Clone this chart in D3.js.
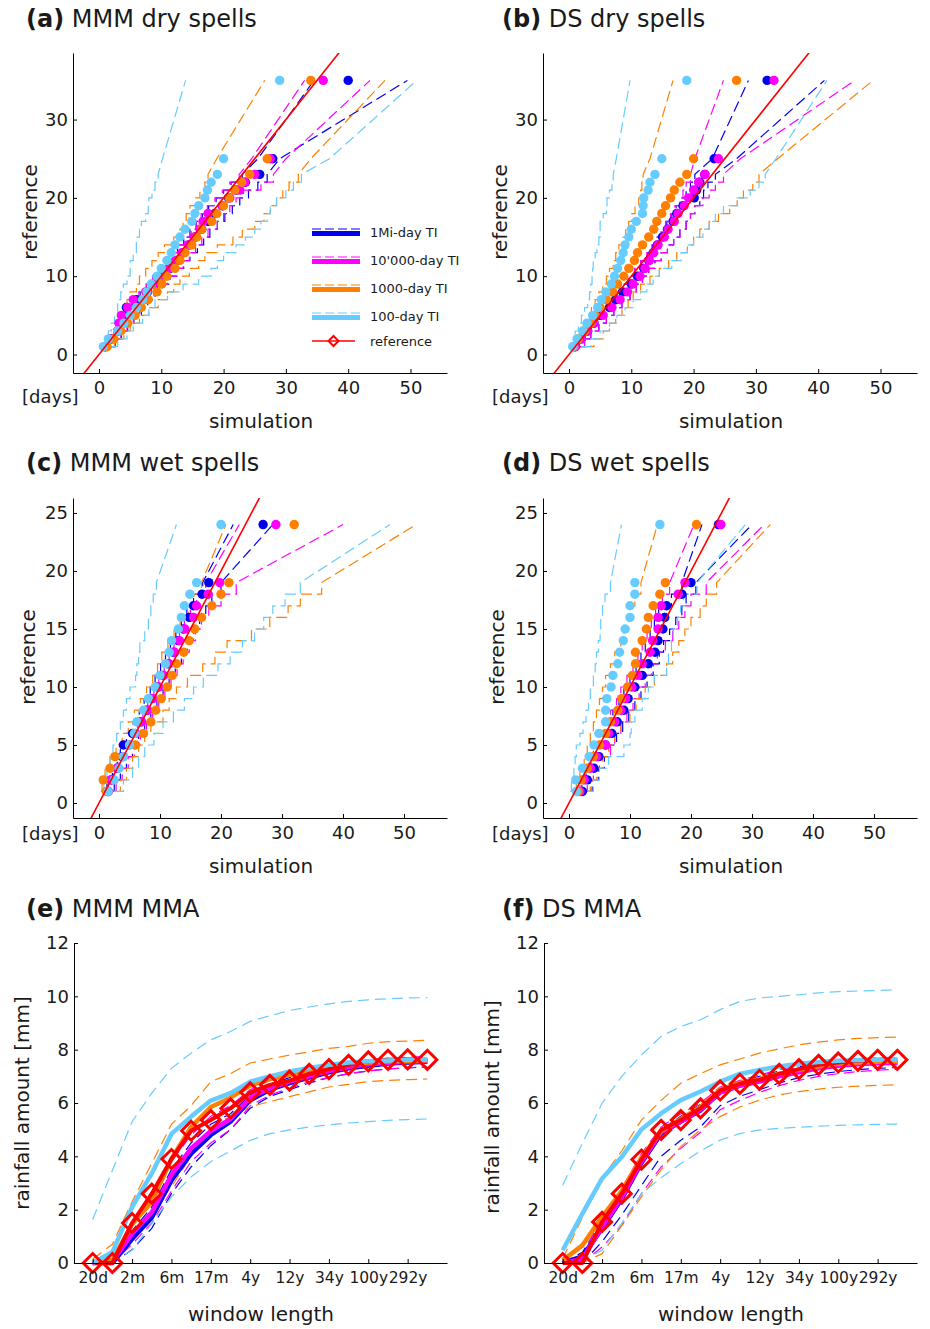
<!DOCTYPE html>
<html>
<head>
<meta charset="utf-8">
<script src="https://cdn.jsdelivr.net/npm/d3@7"></script>
<style>
  html, body { margin: 0; padding: 0; background: #fff; }
  svg { display: block; font-family: "DejaVu Sans", sans-serif; }
</style>
</head>
<body>
<svg id="fig" width="930" height="1329"></svg>
<script>
// ---------------- series labels and colours ----------------
const seriesNames = ["1Mi-day TI", "10'000-day TI", "1000-day TI", "100-day TI"];
const seriesColors = ["#0000ee", "#ff00ff", "#ff8000", "#66ccff"];
const refColor = "#ff0000";

// ---------------- (a) MMM dry spells ----------------
const aLevels = [1,2,3,4,5,6,7,8,9,10,11,12,13,14,15,16,17,18,19,20,21,22,23,25,35];
const aBluePts  = [1.0,2.0,3.0,3.8,4.2,4.4,6.0,7.8,9.0,10.2,11.4,12.5,13.5,14.5,15.5,16.5,17.5,18.6,19.8,20.8,22.0,23.5,25.8,27.9,40.0];
const aBlueLo   = [0.9,1.7,2.6,3.2,3.6,4.2,5.4,6.6,7.6,8.6,9.6,10.6,11.6,12.6,13.6,14.6,15.6,16.6,17.6,18.8,20.0,21.2,23.0,25.5,34.5];
const aBlueHi   = [1.6,2.6,3.6,4.6,5.6,6.8,7.8,9.0,10.2,11.4,12.6,13.6,14.6,15.8,16.8,17.8,19.0,20.2,21.4,22.6,24.0,25.5,27.0,29.0,49.5];
const aMagPts   = [1.0,2.0,3.0,3.2,3.6,4.6,5.5,7.5,8.8,10.0,11.2,12.3,13.3,14.3,15.3,16.2,16.7,17.5,19.8,21.0,22.6,23.4,25.0,27.5,36.0];
const aMagLo    = [0.8,1.6,2.4,3.0,3.4,4.2,5.2,6.4,7.6,8.6,9.8,10.8,11.8,12.8,13.8,14.8,15.6,16.4,17.4,18.6,19.8,21.0,22.5,24.5,33.0];
const aMagHi    = [1.5,2.5,3.5,4.5,5.5,6.5,7.5,8.8,10.0,11.0,12.5,13.5,14.5,15.5,16.5,17.5,19.0,20.0,21.0,22.0,23.2,26.0,28.0,30.0,43.5];
const aOraPts   = [1.3,2.4,3.5,4.6,5.8,6.8,7.9,9.3,10.1,10.9,12.2,13.0,13.8,14.9,15.7,16.5,18.1,18.9,20.0,20.9,21.8,22.9,24.2,27.0,34.0];
const aOraLo    = [0.8,1.5,2.5,3.0,3.5,4.0,4.5,5.0,6.0,6.5,7.5,8.5,9.5,10.5,12.0,13.0,13.5,14.0,14.6,15.5,16.2,17.0,17.5,18.9,26.6];
const aOraHi    = [1.5,2.5,4.0,5.0,6.5,8.0,9.5,11.0,12.0,13.0,14.5,16.0,17.0,19.0,21.5,23.0,25.0,26.5,27.5,28.5,29.5,30.5,32.0,34.0,45.9];
const aLightPts = [0.7,1.5,3.0,4.0,5.0,6.0,7.0,7.7,8.4,9.3,10.0,10.9,11.6,12.2,13.0,13.8,14.9,15.4,16.0,17.0,17.4,18.0,19.0,20.0,29.0];
const aLightLo  = [0.5,1.0,1.5,2.0,2.5,3.0,3.0,3.5,3.9,4.5,5.0,5.0,5.5,6.0,6.0,6.5,6.8,7.5,7.9,8.0,8.5,9.0,9.5,10.2,13.9];
const aLightHi  = [2.0,3.0,4.5,5.5,7.0,8.0,9.0,11.0,13.5,16.0,18.0,19.0,20.0,22.0,23.5,25.0,26.0,27.0,27.5,28.5,30.0,31.2,32.5,37.0,51.0];

// ---------------- (b) DS dry spells ----------------
const bLevels = aLevels;
const bBluePts  = [1.0,2.0,3.0,4.0,5.0,6.5,7.5,8.6,10.0,11.0,12.0,12.8,13.5,14.2,15.0,15.8,16.7,17.3,18.3,20.1,20.5,21.0,21.8,23.3,31.8];
const bBlueLo   = [0.9,1.7,2.6,3.6,4.6,5.6,6.6,7.6,8.6,9.6,10.6,11.6,12.6,13.4,14.2,15.0,15.7,16.5,17.2,18.0,18.8,19.5,20.2,23.0,28.8];
const bBlueHi   = [1.5,2.5,3.5,4.8,6.0,7.2,8.5,9.8,10.8,11.8,12.8,13.8,14.8,15.8,16.8,17.8,18.8,19.5,20.2,21.0,21.6,22.3,23.5,26.9,41.0];
const bMagPts   = [1.0,2.0,3.0,4.0,5.5,6.9,8.2,9.4,10.3,11.4,12.2,12.9,13.6,14.3,15.3,15.9,16.9,17.5,18.5,19.2,20.0,20.8,21.8,24.0,32.9];
const bMagLo    = [0.8,1.6,2.5,3.5,4.5,5.5,6.5,7.5,8.5,9.5,10.5,11.5,12.5,13.3,14.0,14.8,15.5,16.3,17.0,17.8,18.3,18.8,19.5,20.2,24.8];
const bMagHi    = [1.5,2.5,3.5,4.8,6.0,7.2,8.5,9.8,10.8,11.8,12.8,13.8,14.8,15.8,16.8,17.8,18.8,19.5,20.2,21.5,22.5,23.5,24.8,27.5,45.9];
const bOraPts   = [0.8,1.5,2.5,3.5,4.2,5.0,6.0,7.0,7.8,8.8,9.6,10.5,11.0,11.8,12.8,13.6,14.1,14.9,15.5,16.3,16.9,17.8,18.9,20.0,26.9];
const bOraLo    = [0.5,1.0,1.7,2.3,3.0,3.6,4.2,4.8,5.4,6.0,6.5,7.1,7.5,8.0,8.7,9.1,9.6,10.1,10.6,11.2,11.5,11.7,11.9,13.0,16.7];
const bOraHi    = [2.5,4.0,5.5,6.5,7.5,8.5,9.5,10.3,11.5,13.0,14.5,16.0,17.3,19.0,20.0,21.0,22.5,24.0,25.8,27.0,28.0,29.5,30.5,33.5,48.8];
const bLightPts = [0.6,1.3,2.2,2.9,3.8,4.6,5.2,5.9,6.8,7.3,7.8,8.3,8.7,9.0,9.6,10.0,10.8,11.8,11.9,12.0,12.7,13.0,13.8,14.9,18.9];
const bLightLo  = [0.4,0.8,1.0,1.5,2.0,2.5,3.0,3.3,3.5,3.7,3.8,3.9,4.2,4.5,4.8,5.0,5.0,5.5,6.0,6.1,6.5,6.9,7.1,7.6,9.8];
const bLightHi  = [2.0,3.5,5.0,6.5,7.7,9.0,10.3,11.5,12.5,13.5,14.5,16.5,18.0,19.0,20.0,21.5,22.5,23.5,24.8,27.0,29.1,30.5,31.5,33.2,41.4];

// ---------------- (c) MMM wet spells ----------------
const cLevels = [1,2,3,4,5,6,7,8,9,10,11,12,13,14,15,16,17,18,19,24];
const cBluePts  = [1.5,2.0,3.0,3.8,4.0,5.5,6.8,7.8,8.6,9.6,10.4,11.3,12.2,13.0,13.8,14.8,15.5,16.9,18.0,26.9];
const cBlueLo   = [0.8,1.3,2.2,3.0,3.5,4.5,5.6,6.6,7.4,8.4,9.2,10.1,10.9,11.7,12.6,13.5,14.4,15.5,17.0,22.0];
const cBlueHi   = [2.0,2.5,3.5,4.5,5.5,6.5,7.5,8.5,9.5,10.5,11.5,12.5,13.5,14.5,15.5,16.5,17.5,18.5,20.0,28.5];
const cMagPts   = [1.5,2.0,3.0,4.0,5.0,6.0,7.0,8.0,8.8,9.8,10.6,11.5,12.4,13.2,14.1,15.5,16.0,17.9,19.8,29.0];
const cMagLo    = [1.0,1.5,2.5,3.3,4.3,5.3,6.3,7.2,8.0,9.0,9.8,10.7,11.5,12.3,13.2,14.0,15.0,16.0,17.5,23.0];
const cMagHi    = [2.2,2.8,3.8,4.8,5.8,6.8,7.8,8.8,9.8,10.8,11.8,12.8,13.8,14.8,15.8,16.8,18.0,20.0,22.5,40.0];
const cOraPts   = [1.2,0.7,1.8,2.6,6.0,7.3,8.5,9.3,10.2,11.2,12.0,12.7,13.9,14.8,15.7,16.8,18.5,20.0,21.3,32.0];
const cOraLo    = [0.3,0.5,1.0,1.8,2.8,3.8,4.8,5.8,6.8,7.8,8.8,9.6,10.3,11.3,12.3,13.3,14.6,15.6,16.8,20.8];
const cOraHi    = [2.5,3.5,4.5,5.5,6.5,7.5,8.5,10.5,11.5,12.7,14.5,17.0,19.0,21.0,25.0,28.0,31.0,33.0,36.5,52.0];
const cLightPts = [1.5,2.5,3.3,4.0,5.0,5.8,6.2,7.3,8.1,9.2,10.0,10.9,11.5,11.9,13.0,13.5,14.0,14.9,16.0,20.0];
const cLightLo  = [0.5,0.8,1.3,1.8,2.3,2.9,3.5,4.0,4.5,5.1,6.0,6.2,6.5,6.7,7.5,8.1,8.5,8.9,9.4,12.7];
const cLightHi  = [2.5,4.0,5.5,6.5,7.5,9.0,10.5,12.2,14.0,15.5,17.1,19.5,21.5,23.5,25.5,27.0,28.5,30.5,33.0,47.7];

// ---------------- (d) DS wet spells ----------------
const dLevels = cLevels;
const dBluePts  = [2.2,3.0,4.1,4.9,6.0,7.0,7.9,9.0,9.7,10.8,12.0,13.0,14.1,14.6,15.4,15.7,16.0,18.5,20.0,24.5];
const dBlueLo   = [1.3,2.1,2.8,3.6,4.4,5.4,6.2,7.2,8.2,9.0,10.0,11.0,11.8,12.5,13.3,14.0,14.7,16.8,18.5,21.8];
const dBlueHi   = [2.8,3.8,4.8,5.8,6.8,7.8,8.8,9.8,10.8,11.8,12.8,13.8,14.8,15.5,16.5,17.5,18.5,19.2,20.8,30.0];
const dMagPts   = [1.8,2.5,3.5,4.5,6.0,6.5,7.5,8.5,9.3,10.3,11.3,12.0,13.3,13.7,14.6,14.6,15.1,17.9,19.0,24.9];
const dMagLo    = [1.0,1.8,2.5,3.3,4.0,5.0,5.8,6.8,7.8,8.5,9.5,10.5,11.3,12.0,12.8,13.5,14.2,15.3,16.5,20.5];
const dMagHi    = [2.2,3.0,4.0,5.0,6.8,7.5,8.5,9.5,10.5,11.5,12.5,13.5,14.5,15.8,17.0,18.0,19.0,20.0,22.5,32.0];
const dOraPts   = [1.5,2.0,3.0,4.0,5.0,6.0,6.8,8.0,8.6,9.6,10.4,10.9,10.9,12.0,12.7,13.0,13.8,14.9,15.8,20.9];
const dOraLo    = [0.8,1.2,1.8,2.5,3.0,3.5,4.0,4.5,5.0,5.5,6.0,6.8,7.5,8.5,9.0,9.8,10.3,10.8,11.8,14.5];
const dOraHi    = [2.5,3.5,4.5,5.5,6.5,7.5,8.5,10.0,11.0,12.5,14.0,16.0,17.0,18.0,19.0,20.0,21.5,22.5,24.2,33.0];
const dLightPts = [1.2,1.1,2.2,3.3,4.1,4.9,6.0,6.0,6.2,6.9,7.2,8.0,8.3,8.9,9.2,10.0,10.0,10.8,10.8,14.9];
const dLightLo  = [0.2,0.4,0.8,1.0,1.2,1.8,2.3,2.8,3.2,3.5,4.0,4.3,4.5,4.8,5.1,5.2,5.5,5.9,6.8,8.6];
const dLightHi  = [3.0,4.0,5.0,6.5,9.0,10.0,10.2,10.8,12.0,13.0,14.0,16.0,16.3,16.8,17.1,17.8,18.3,18.8,21.0,28.9];

// ---------------- (e)/(f) maximum mean amount vs window length ----------------
const windowLabels = ["20d","2m","6m","17m","4y","12y","34y","100y","292y"];   // every second window
const eRef      = [0,0,1.5,2.6,3.9,4.96,5.36,5.8,6.4,6.68,6.84,7.09,7.27,7.43,7.56,7.62,7.64,7.62];
const eBlue     = [0,0,0.9,1.7,3.1,4.1,4.8,5.3,6.1,6.5,6.75,6.95,7.15,7.3,7.4,7.48,7.52,7.55];
const eBlueLo   = [0,0,0.5,1.3,2.6,3.6,4.4,5.0,5.8,6.25,6.5,6.75,6.95,7.1,7.2,7.28,7.32,7.35];
const eBlueHi   = [0,0.1,1.2,2.1,3.5,4.5,5.2,5.6,6.3,6.7,6.95,7.15,7.3,7.42,7.5,7.56,7.6,7.62];
const eMag      = [0,0.05,1.1,1.9,3.3,4.3,4.95,5.4,6.2,6.55,6.8,7.0,7.2,7.35,7.45,7.5,7.55,7.57];
const eMagLo    = [0,0,0.7,1.5,2.7,3.8,4.5,5.0,5.9,6.3,6.55,6.8,6.95,7.1,7.2,7.28,7.32,7.35];
const eMagHi    = [0,0.15,1.5,2.4,3.8,4.8,5.5,5.9,6.5,6.85,7.05,7.25,7.4,7.55,7.62,7.68,7.72,7.75];
const eOra      = [0,0.1,1.45,2.3,3.9,5.1,5.85,6.2,6.65,6.9,7.05,7.2,7.35,7.45,7.52,7.56,7.58,7.6];
const eOraLo    = [0,0,0.8,1.9,2.86,4.0,5.1,5.5,5.86,6.05,6.24,6.42,6.6,6.7,6.8,6.85,6.88,6.9];
const eOraHi    = [0.15,0.7,2.3,3.73,5.2,5.9,6.8,7.1,7.5,7.65,7.8,7.92,8.05,8.12,8.24,8.3,8.32,8.35];
const eLight    = [0,0.41,2.1,3.36,4.84,5.49,6.09,6.37,6.8,7.0,7.18,7.31,7.43,7.52,7.57,7.59,7.62,7.62];
const eLightLo  = [0,0.05,0.48,1.48,2.48,3.23,3.8,4.2,4.6,4.85,4.99,5.1,5.18,5.25,5.3,5.35,5.38,5.4];
const eLightHi  = [1.63,3.48,5.3,6.37,7.3,7.87,8.37,8.68,9.06,9.27,9.47,9.6,9.72,9.81,9.87,9.91,9.94,9.95];

const fRef      = [0,0,1.54,2.6,3.88,4.99,5.36,5.8,6.47,6.72,6.87,7.09,7.27,7.43,7.52,7.58,7.62,7.62];
const fBlue     = [0,0.25,1.3,2.4,3.75,4.85,5.3,5.72,6.4,6.65,6.82,7.02,7.2,7.33,7.42,7.48,7.5,7.52];
const fBlueLo   = [0,0,0.8,1.8,2.9,4.0,4.6,5.1,5.9,6.25,6.5,6.75,6.95,7.08,7.18,7.25,7.3,7.33];
const fBlueHi   = [0,0.4,1.6,2.7,4.0,5.0,5.5,5.95,6.55,6.8,7.0,7.2,7.35,7.48,7.56,7.62,7.66,7.68];
const fMag      = [0,0.15,1.35,2.45,3.8,4.9,5.3,5.75,6.4,6.65,6.8,7.0,7.15,7.3,7.4,7.45,7.5,7.5];
const fMagLo    = [0,0,0.6,1.4,2.6,3.6,4.3,4.9,5.75,6.1,6.4,6.65,6.85,7.0,7.1,7.18,7.23,7.27];
const fMagHi    = [0,0.3,1.7,2.8,4.1,5.1,5.6,6.0,6.6,6.85,7.05,7.25,7.4,7.52,7.6,7.66,7.7,7.72];
const fOra      = [0.1,0.66,1.73,2.7,3.95,4.95,5.4,5.85,6.5,6.75,6.9,7.1,7.25,7.38,7.47,7.52,7.55,7.57];
const fOraLo    = [0,0,0.35,1.4,2.48,3.5,4.36,5.0,5.49,5.85,6.11,6.3,6.43,6.52,6.59,6.63,6.66,6.68];
const fOraHi    = [0.16,1.7,3.2,4.2,5.36,6.1,6.74,7.1,7.43,7.65,7.87,8.03,8.18,8.28,8.37,8.42,8.45,8.47];
const fLight    = [0.48,1.85,3.17,3.98,5.01,5.61,6.11,6.43,6.8,7.09,7.24,7.37,7.47,7.54,7.58,7.61,7.62,7.62];
const fLightLo  = [0,0.1,0.48,1.5,2.6,3.2,3.73,4.2,4.61,4.85,4.99,5.05,5.09,5.13,5.16,5.18,5.2,5.21];
const fLightHi  = [2.92,4.49,5.99,7.0,7.8,8.5,8.87,9.12,9.5,9.81,9.94,10.0,10.06,10.13,10.18,10.2,10.22,10.25];

// ---------------- drawing ----------------
const svg = d3.select("#fig");
const FONT = "DejaVu Sans, sans-serif";
const TXT = "#1a1a1a";

function title(x, y, tag, rest) {
  const t = svg.append("text").attr("x", x).attr("y", y)
    .attr("font-size", 24).attr("fill", TXT);
  t.append("tspan").attr("font-weight", "bold").text(tag);
  t.append("tspan").text(" " + rest);
}

function axisLabel(x, y, text, rotate, size) {
  svg.append("text")
    .attr("transform", `translate(${x},${y})` + (rotate ? " rotate(-90)" : ""))
    .attr("text-anchor", "middle").attr("dominant-baseline", "central")
    .attr("font-size", size || 20).attr("fill", TXT).text(text);
}

function styleAxis(g, fontSize) {
  g.selectAll("path.domain").attr("stroke", "#000").attr("stroke-width", 1);
  g.selectAll(".tick line").attr("stroke", "#000");
  g.selectAll(".tick text").attr("font-size", fontSize || 18).attr("fill", TXT)
    .attr("font-family", FONT);
}

let clipId = 0;

// Q–Q panel: simulated quantiles (x) against reference quantiles (y)
function qqPanel(cfg) {
  const x = d3.scaleLinear().domain(cfg.xDomain).range([cfg.left, cfg.left + 374]);
  const y = d3.scaleLinear().domain(cfg.yDomain).range([cfg.bottom, cfg.top]);
  const id = "clip" + (clipId++);
  svg.append("clipPath").attr("id", id).append("rect")
    .attr("x", cfg.left).attr("y", cfg.top)
    .attr("width", 374).attr("height", cfg.bottom - cfg.top);
  const plot = svg.append("g").attr("clip-path", `url(#${id})`);

  // staircase between consecutive integer levels, straight line across gaps
  const boundLine = (xs) => {
    const pts = [];
    xs.forEach((v, i) => {
      if (i > 0 && cfg.levels[i] - cfg.levels[i - 1] === 1)
        pts.push([x(v), y(cfg.levels[i - 1])]);
      pts.push([x(v), y(cfg.levels[i])]);
    });
    return d3.line()(pts);
  };

  cfg.series.forEach((s, k) => {
    [s.lo, s.hi].forEach(b => {
      plot.append("path").attr("d", boundLine(b))
        .attr("fill", "none").attr("stroke", seriesColors[k])
        .attr("stroke-width", 1.2).attr("stroke-dasharray", "11,5");
    });
  });
  cfg.series.forEach((s, k) => {
    plot.append("g").selectAll("circle")
      .data(s.pts.map((v, i) => [v, cfg.levels[i]]))
      .join("circle")
      .attr("cx", d => x(d[0])).attr("cy", d => y(d[1])).attr("r", 4.7)
      .attr("fill", seriesColors[k]);
  });
  // 1:1 reference line
  const lo = Math.min(cfg.xDomain[0], cfg.yDomain[0]);
  const hi = Math.max(cfg.xDomain[1], cfg.yDomain[1]);
  plot.append("line")
    .attr("x1", x(lo)).attr("y1", y(lo)).attr("x2", x(hi)).attr("y2", y(hi))
    .attr("stroke", refColor).attr("stroke-width", 1.6);

  const gx = svg.append("g").attr("transform", `translate(0,${cfg.bottom})`)
    .call(d3.axisBottom(x).tickValues([0,10,20,30,40,50]).tickFormat(d3.format("d"))
      .tickSizeInner(-4).tickSizeOuter(0).tickPadding(8));
  const gy = svg.append("g").attr("transform", `translate(${cfg.left},0)`)
    .call(d3.axisLeft(y).tickValues(cfg.yTicks).tickFormat(d3.format("d"))
      .tickSizeInner(-4).tickSizeOuter(0).tickPadding(5));
  styleAxis(gx); styleAxis(gy);
  return {x, y};
}

function seriesSet(list) {
  return list.map(([pts, lo, hi]) => ({pts, lo, hi}));
}

// dry spells
qqPanel({left: 73, top: 53, bottom: 373, xDomain: [-4.17, 55.86], yDomain: [-2.36, 38.5],
  yTicks: [0,10,20,30], levels: aLevels,
  series: seriesSet([[aBluePts,aBlueLo,aBlueHi],[aMagPts,aMagLo,aMagHi],[aOraPts,aOraLo,aOraHi],[aLightPts,aLightLo,aLightHi]])});
qqPanel({left: 543, top: 53, bottom: 373, xDomain: [-4.17, 55.86], yDomain: [-2.36, 38.5],
  yTicks: [0,10,20,30], levels: bLevels,
  series: seriesSet([[bBluePts,bBlueLo,bBlueHi],[bMagPts,bMagLo,bMagHi],[bOraPts,bOraLo,bOraHi],[bLightPts,bLightLo,bLightHi]])});
// wet spells
qqPanel({left: 73, top: 498, bottom: 818, xDomain: [-4.26, 57.05], yDomain: [-1.29, 26.29],
  yTicks: [0,5,10,15,20,25], levels: cLevels,
  series: seriesSet([[cBluePts,cBlueLo,cBlueHi],[cMagPts,cMagLo,cMagHi],[cOraPts,cOraLo,cOraHi],[cLightPts,cLightLo,cLightHi]])});
qqPanel({left: 543, top: 498, bottom: 818, xDomain: [-4.26, 57.05], yDomain: [-1.29, 26.29],
  yTicks: [0,5,10,15,20,25], levels: dLevels,
  series: seriesSet([[dBluePts,dBlueLo,dBlueHi],[dMagPts,dMagLo,dMagHi],[dOraPts,dOraLo,dOraHi],[dLightPts,dLightLo,dLightHi]])});

// MMA panels: amount against window length (index of window)
function diamond(g, cx, cy, r, sw) {
  g.append("path")
    .attr("d", `M${cx},${cy - r}L${cx + r},${cy}L${cx},${cy + r}L${cx - r},${cy}Z`)
    .attr("fill", "none").attr("stroke", refColor).attr("stroke-width", sw)
    .attr("stroke-linejoin", "miter");
}

function mmaPanel(cfg) {
  const x = d3.scaleLinear().domain([-0.95, 18]).range([cfg.left, cfg.left + 373]);
  const y = d3.scaleLinear().domain([0, 12]).range([1263, 943]);
  const g = svg.append("g");
  const line = d3.line().x((d, i) => x(i)).y(d => y(d));
  cfg.series.forEach((s, k) => {
    [s.lo, s.hi].forEach(b => g.append("path").attr("d", line(b))
      .attr("fill", "none").attr("stroke", seriesColors[k])
      .attr("stroke-width", 1.2).attr("stroke-dasharray", "11,6"));
  });
  cfg.series.slice(0, 3).forEach((s, k) => g.append("path").attr("d", line(s.mid))
    .attr("fill", "none").attr("stroke", seriesColors[k]).attr("stroke-width", 4.5)
    .attr("stroke-linejoin", "round"));
  g.append("path").attr("d", line(cfg.ref)).attr("fill", "none")
    .attr("stroke", refColor).attr("stroke-width", 4).attr("stroke-linejoin", "round");
  g.append("path").attr("d", line(cfg.series[3].mid))
    .attr("fill", "none").attr("stroke", seriesColors[3]).attr("stroke-width", 4.5)
    .attr("stroke-linejoin", "round");
  cfg.ref.forEach((v, i) => diamond(g, x(i), y(v), 9.5, 3));

  const gx = svg.append("g").attr("transform", `translate(0,${y(0)})`)
    .call(d3.axisBottom(x).tickValues(d3.range(0, 17, 2))
      .tickFormat((d, i) => windowLabels[i])
      .tickSizeInner(-4).tickSizeOuter(0).tickPadding(9));
  const gy = svg.append("g").attr("transform", `translate(${cfg.left},0)`)
    .call(d3.axisLeft(y).tickValues([0,2,4,6,8,10,12]).tickFormat(d3.format("d"))
      .tickSizeInner(-4).tickSizeOuter(0).tickPadding(5));
  styleAxis(gx, 15.5); styleAxis(gy);
}

mmaPanel({left: 74, ref: eRef, series: [
  {mid: eBlue, lo: eBlueLo, hi: eBlueHi}, {mid: eMag, lo: eMagLo, hi: eMagHi},
  {mid: eOra, lo: eOraLo, hi: eOraHi}, {mid: eLight, lo: eLightLo, hi: eLightHi}]});
mmaPanel({left: 544, ref: fRef, series: [
  {mid: fBlue, lo: fBlueLo, hi: fBlueHi}, {mid: fMag, lo: fMagLo, hi: fMagHi},
  {mid: fOra, lo: fOraLo, hi: fOraHi}, {mid: fLight, lo: fLightLo, hi: fLightHi}]});

// titles
title(26, 27, "(a)", "MMM dry spells");
title(502, 27, "(b)", "DS dry spells");
title(26, 471, "(c)", "MMM wet spells");
title(502, 471, "(d)", "DS wet spells");
title(26, 917, "(e)", "MMM MMA");
title(502, 917, "(f)", "DS MMA");

// axis titles
axisLabel(30, 212, "reference", true);
axisLabel(500, 212, "reference", true);
axisLabel(28, 657, "reference", true);
axisLabel(497, 657, "reference", true);
axisLabel(261, 421, "simulation");
axisLabel(731, 421, "simulation");
axisLabel(261, 866, "simulation");
axisLabel(731, 866, "simulation");
axisLabel(22, 1103, "rainfall amount [mm]", true);
axisLabel(492, 1107, "rainfall amount [mm]", true);
axisLabel(261, 1314, "window length");
axisLabel(731, 1314, "window length");
[[22, 396], [492, 396], [22, 833], [492, 833]].forEach(([px, py]) =>
  svg.append("text").attr("x", px).attr("y", py).attr("dominant-baseline", "central")
    .attr("font-size", 18).attr("fill", TXT).text("[days]"));

// legend (panel a)
const leg = svg.append("g");
const legRows = [229, 257, 285, 313];
seriesNames.forEach((name, k) => {
  const yy = legRows[k];
  leg.append("line").attr("x1", 312).attr("x2", 360).attr("y1", yy).attr("y2", yy)
    .attr("stroke", seriesColors[k]).attr("stroke-width", 1.2).attr("stroke-dasharray", "9,4");
  leg.append("line").attr("x1", 312).attr("x2", 360).attr("y1", yy + 4.5).attr("y2", yy + 4.5)
    .attr("stroke", seriesColors[k]).attr("stroke-width", 5);
  leg.append("text").attr("x", 370).attr("y", yy + 3).attr("dominant-baseline", "central")
    .attr("font-size", 13).attr("fill", TXT).text(name);
});
leg.append("line").attr("x1", 312).attr("x2", 355).attr("y1", 341).attr("y2", 341)
  .attr("stroke", refColor).attr("stroke-width", 1.6);
diamond(leg, 333.5, 341, 5, 2);
leg.append("text").attr("x", 370).attr("y", 341).attr("dominant-baseline", "central")
  .attr("font-size", 13).attr("fill", TXT).text("reference");
</script>
</body>
</html>
